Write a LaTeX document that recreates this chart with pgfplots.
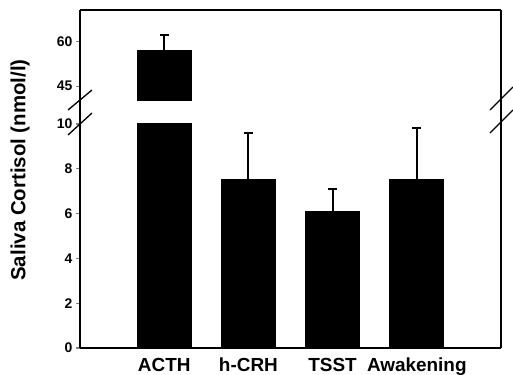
\documentclass[border=0pt]{standalone}
\usepackage{pgfplots}
\pgfplotsset{compat=1.18}
\usepackage{fontspec}
\setmainfont{Liberation Sans}
\begin{document}
\begin{tikzpicture}[x=1bp,y=1bp]
\useasboundingbox (0,0) rectangle (513,374);
\pgfplotsset{
  brk/.style={
    scale only axis, width=421bp,
    xmin=-1, xmax=4,
    ybar, bar width=0.627,
    axis line style={line width=1.4bp},
    tick align=outside,
    major tick length=4bp,
    /pgf/number format/assume math mode=true,
    yticklabel style={font=\fontsize{14}{16}\selectfont\bfseries},
    axis y line*=left,
    ytick style={line width=1.3bp},
  },
  ebar/.style={fill=black, draw=black, line width=2bp,
    error bars/.cd, y dir=plus, y explicit,
    error bar style={line width=2bp, black},
    error mark=-,
    error mark options={rotate=90, line width=2bp, mark size=4.5bp, black}},
}
% lower part
\begin{axis}[brk, at={(80bp,26bp)}, anchor=south west, height=224bp,
  ymin=0, ymax=10, ytick={0,2,4,6,8,10},
  axis x line*=bottom,
  xtick=data, xticklabels={ACTH,h-CRH,TSST,Awakening},
  xtick style={draw=none},
  xticklabel style={font=\fontsize{19}{21}\selectfont\bfseries,
    text height=14bp, text depth=4bp, yshift=-2bp},
]
\addplot[ebar]
  coordinates {(0,57) +- (0,5.3) (1,7.5) +- (0,2.1) (2,6.05) +- (0,1.05) (3,7.5) +- (0,2.33)};
\end{axis}
% upper part
\begin{axis}[brk, at={(80bp,273bp)}, anchor=south west, height=91bp,
  ymin=40, ymax=70.7, ytick={45,60},
  axis x line*=top, xtick=\empty,
]
\addplot[ebar]
  coordinates {(0,57) +- (0,5.3)};
\end{axis}
% frame pieces and break marks
\draw[line width=1.4bp] (80,249) -- (80,274);
\draw[line width=1.4bp] (501,26) -- (501,364);
\draw[line width=1.3bp] (68,264) -- (92,284);
\draw[line width=1.3bp] (68,239) -- (92,261);
\draw[line width=1.3bp] (490,264) -- (513,287);
\draw[line width=1.3bp] (490,241) -- (513,264);
\node[rotate=90, font=\fontsize{20.5}{22}\selectfont\bfseries] at (20,204) {Saliva Cortisol (nmol/l)};
\end{tikzpicture}
\end{document}
